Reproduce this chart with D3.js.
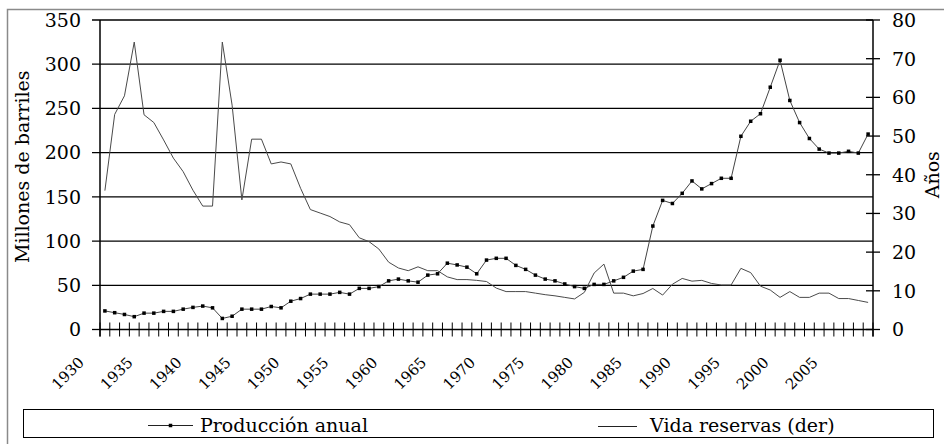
<!DOCTYPE html>
<html>
<head>
<meta charset="utf-8">
<script src="https://cdn.jsdelivr.net/npm/d3@7"></script>
<style>
  body { margin: 0; background: #fff; }
  svg { display: block; }
  text { font-family: "DejaVu Serif", serif; fill: #000; }
</style>
</head>
<body>
<svg id="chart"></svg>
<script>
// categories (one per year) and the two series
const years = [1930, 1931, 1932, 1933, 1934, 1935, 1936, 1937, 1938, 1939,
               1940, 1941, 1942, 1943, 1944, 1945, 1946, 1947, 1948, 1949,
               1950, 1951, 1952, 1953, 1954, 1955, 1956, 1957, 1958, 1959,
               1960, 1961, 1962, 1963, 1964, 1965, 1966, 1967, 1968, 1969,
               1970, 1971, 1972, 1973, 1974, 1975, 1976, 1977, 1978, 1979,
               1980, 1981, 1982, 1983, 1984, 1985, 1986, 1987, 1988, 1989,
               1990, 1991, 1992, 1993, 1994, 1995, 1996, 1997, 1998, 1999,
               2000, 2001, 2002, 2003, 2004, 2005, 2006, 2007, 2008];

// Producción anual (millones de barriles, eje izquierdo)
const produccion = [21, 19, 17, 14.5, 18.5, 18.5, 20.5, 20.5, 23, 25,
                    26.5, 24.5, 12.5, 15, 23, 23, 23, 26, 24.5, 32,
                    35, 40, 40, 40, 42, 40, 46.5, 46.5, 48.5, 55,
                    57, 55, 53.5, 61.5, 63, 75, 73, 70.5, 63, 78.5,
                    80.5, 80.5, 72.5, 68, 61.5, 57, 55, 51.5, 48.5, 46.5,
                    51, 51, 55, 59, 66, 68, 117, 146, 142.5, 154,
                    168, 159, 165, 171, 171, 218.5, 235.5, 244, 274, 304.5,
                    259, 234, 216, 204, 199.5, 199.5, 201.5, 199.5, 221];

// Vida reservas (años, eje derecho)
const vidaReservas = [35.9, 55.6, 60.4, 74.3, 55.5, 53.5, 49, 44.3, 40.8, 36,
                      31.9, 31.9, 74.3, 58, 33.5, 49.2, 49.2, 42.8, 43.3, 42.8,
                      36.5, 31, 30.1, 29.2, 27.8, 27.1, 23.7, 22.7, 20.8, 17.4,
                      15.9, 15.2, 16.2, 15.2, 15.2, 13.6, 12.9, 12.9, 12.7, 12.4,
                      10.7, 9.8, 9.8, 9.8, 9.4, 9.0, 8.7, 8.3, 7.9, 9.6,
                      14.6, 16.9, 9.4, 9.4, 8.7, 9.3, 10.6, 8.9, 11.7, 13.2,
                      12.5, 12.7, 11.9, 11.5, 11.5, 15.8, 14.7, 11.2, 10.2, 8.3,
                      9.8, 8.3, 8.3, 9.4, 9.4, 8.0, 8.0, 7.5, 7.0];

// tick labels
const leftTicks = [0, 50, 100, 150, 200, 250, 300, 350];
const rightTicks = [0, 10, 20, 30, 40, 50, 60, 70, 80];
const yearLabels = ["1930", "1935", "1940", "1945", "1950", "1955", "1960", "1965",
                    "1970", "1975", "1980", "1985", "1990", "1995", "2000", "2005"];

const seriesNames = ["Producción anual", "Vida reservas (der)"];

const width = 944, height = 444;
const margin = { top: 20, left: 100 };
const plotWidth = 773;
const plotHeight = 309.5;

const svg = d3.select("#chart").attr("width", width).attr("height", height);

// outer frame of the chart object
svg.append("rect")
  .attr("x", 7.5).attr("y", 9.5)
  .attr("width", 945).attr("height", 445)
  .attr("fill", "none")
  .attr("stroke", "#8a8a8a")
  .attr("stroke-width", 1.5);

let plotArea = svg.append("g")
  .attr("class", "graph")
  .attr("transform", `translate(${margin.left}, ${margin.top})`);

// scales
let xBand = d3.scaleBand().domain(years).range([0, plotWidth]);
let xCenter = d => xBand(d) + xBand.bandwidth() / 2;

let yLeft = d3.scaleLinear().domain([0, 350]).range([plotHeight, 0]);
let yRight = d3.scaleLinear().domain([0, 80]).range([plotHeight, 0]);

const tickLen = 7;

function drawGrid() {
  plotArea.append("g").attr("class", "grid")
    .selectAll("line")
    .data(leftTicks.filter(d => d > 0))
    .enter()
    .append("line")
    .attr("x1", -8).attr("x2", plotWidth)
    .attr("y1", d => yLeft(d)).attr("y2", d => yLeft(d))
    .attr("stroke", "#000")
    .attr("stroke-width", 1.3);
}

function drawAxis() {
  // left axis
  let left = plotArea.append("g").attr("class", "axis left");
  left.append("line")
    .attr("x1", 0).attr("x2", 0)
    .attr("y1", 0).attr("y2", plotHeight + tickLen)
    .attr("stroke", "#000").attr("stroke-width", 1.5);
  left.append("line")
    .attr("x1", -8).attr("x2", 0)
    .attr("y1", yLeft(0)).attr("y2", yLeft(0))
    .attr("stroke", "#000").attr("stroke-width", 1.3);
  left.selectAll("text")
    .data(leftTicks)
    .enter()
    .append("text")
    .attr("x", -19)
    .attr("y", d => yLeft(d))
    .attr("dy", "0.36em")
    .attr("text-anchor", "end")
    .attr("font-size", 19)
    .text(d => d);

  // right axis
  let right = plotArea.append("g").attr("class", "axis right")
    .attr("transform", `translate(${plotWidth}, 0)`);
  right.append("line")
    .attr("x1", 0).attr("x2", 0)
    .attr("y1", 0).attr("y2", plotHeight + tickLen)
    .attr("stroke", "#000").attr("stroke-width", 1.5);
  right.selectAll("line.tick")
    .data(rightTicks)
    .enter()
    .append("line")
    .attr("class", "tick")
    .attr("x1", -tickLen).attr("x2", tickLen)
    .attr("y1", d => yRight(d)).attr("y2", d => yRight(d))
    .attr("stroke", "#000").attr("stroke-width", 1.3);
  right.selectAll("text")
    .data(rightTicks)
    .enter()
    .append("text")
    .attr("x", 19)
    .attr("y", d => yRight(d))
    .attr("dy", "0.36em")
    .attr("font-size", 19)
    .text(d => d);

  // category axis, ticks between the years
  let bottom = plotArea.append("g").attr("class", "axis x")
    .attr("transform", `translate(0, ${plotHeight})`);
  bottom.append("line")
    .attr("x1", 0).attr("x2", plotWidth)
    .attr("stroke", "#000").attr("stroke-width", 1.5);
  let bounds = years.map(d => xBand(d)).concat([plotWidth]);
  bottom.selectAll("line.tick")
    .data(bounds)
    .enter()
    .append("line")
    .attr("class", "tick")
    .attr("x1", d => d).attr("x2", d => d)
    .attr("y1", -tickLen).attr("y2", tickLen)
    .attr("stroke", "#000").attr("stroke-width", 1);
  // year labels, slanted 45 degrees
  bottom.selectAll("text")
    .data(yearLabels)
    .enter()
    .append("text")
    .attr("text-anchor", "end")
    .attr("font-size", 15)
    .attr("transform", d => `translate(${xCenter(+d) - 20}, 34) rotate(-45)`)
    .text(d => d);

  // axis titles
  svg.append("text")
    .attr("transform", `translate(29, ${margin.top + plotHeight / 2 - 8}) rotate(-90)`)
    .attr("text-anchor", "middle")
    .attr("font-size", 19)
    .text("Millones de barriles");
  svg.append("text")
    .attr("transform", `translate(939, ${margin.top + plotHeight / 2}) rotate(-90)`)
    .attr("text-anchor", "middle")
    .attr("font-size", 19)
    .text("Años");
}

function drawLines() {
  let prodLine = d3.line()
    .x((d, i) => xCenter(years[i]))
    .y(d => yLeft(d));
  let vidaLine = d3.line()
    .x((d, i) => xCenter(years[i]))
    .y(d => yRight(d));

  plotArea.append("path")
    .attr("class", "vida")
    .attr("d", vidaLine(vidaReservas))
    .attr("fill", "none")
    .attr("stroke", "#4a4a4a")
    .attr("stroke-width", 1);

  plotArea.append("path")
    .attr("class", "produccion")
    .attr("d", prodLine(produccion))
    .attr("fill", "none")
    .attr("stroke", "#444")
    .attr("stroke-width", 1);

  const size = 3.5;
  plotArea.append("g").attr("class", "markers")
    .selectAll("rect")
    .data(produccion)
    .enter()
    .append("rect")
    .attr("x", (d, i) => xCenter(years[i]) - size / 2)
    .attr("y", d => yLeft(d) - size / 2)
    .attr("width", size)
    .attr("height", size)
    .attr("fill", "#000");
}

function addLegend() {
  let legend = svg.append("g").attr("class", "legend");
  legend.append("rect")
    .attr("x", 23.5).attr("y", 409.5)
    .attr("width", 910).attr("height", 28)
    .attr("fill", "#fff")
    .attr("stroke", "#000")
    .attr("stroke-width", 1);

  const items = [
    { name: seriesNames[0], x1: 148, x2: 193, y: 425.5, tx: 200, marker: true },
    { name: seriesNames[1], x1: 598, x2: 637, y: 426.5, tx: 650, marker: false }
  ];
  items.forEach(it => {
    legend.append("line")
      .attr("x1", it.x1).attr("x2", it.x2)
      .attr("y1", it.y).attr("y2", it.y)
      .attr("stroke", "#222").attr("stroke-width", 1);
    if (it.marker) {
      legend.append("rect")
        .attr("x", (it.x1 + it.x2) / 2 - 1.75).attr("y", it.y - 1.75)
        .attr("width", 3.5).attr("height", 3.5)
        .attr("fill", "#000");
    }
    legend.append("text")
      .attr("x", it.tx).attr("y", 432)
      .attr("font-size", 19)
      .text(it.name);
  });
}

function renderGraph() {
  drawGrid();
  drawAxis();
  drawLines();
  addLegend();
}

renderGraph();
</script>
</body>
</html>
